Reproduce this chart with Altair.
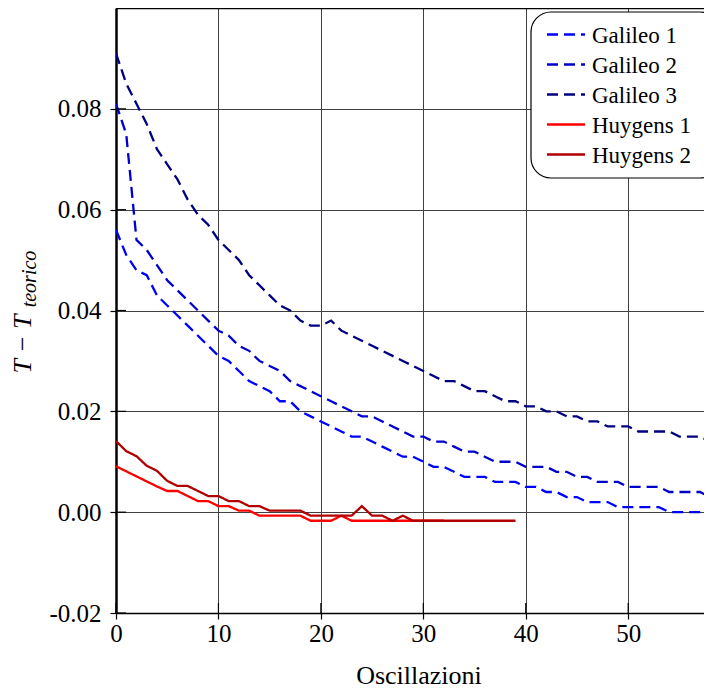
import altair as alt
import pandas as pd

series_names = ["Galileo 1", "Galileo 2", "Galileo 3", "Huygens 1", "Huygens 2"]
series_colors = ["#0000FF", "#0000CC", "#000080", "#FF0000", "#B00000"]
series_dash = [[11, 6], [11, 6], [11, 6], [1, 0], [1, 0]]

galileo1 = [0.056, 0.051, 0.048, 0.047, 0.043, 0.041, 0.039, 0.037, 0.035, 0.033,
            0.031, 0.030, 0.028, 0.026, 0.025, 0.024, 0.022, 0.022, 0.020, 0.019,
            0.018, 0.017, 0.016, 0.015, 0.015, 0.014, 0.013, 0.012, 0.011, 0.011,
            0.010, 0.009, 0.009, 0.008, 0.007, 0.007, 0.007, 0.006, 0.006, 0.006,
            0.005, 0.005, 0.004, 0.004, 0.003, 0.003, 0.002, 0.002, 0.002, 0.001,
            0.001, 0.001, 0.001, 0.001, 0.000, 0.000, 0.000, 0.000, 0.000]
galileo2 = [0.081, 0.075, 0.054, 0.052, 0.049, 0.046, 0.044, 0.042, 0.040, 0.038,
            0.036, 0.035, 0.033, 0.032, 0.030, 0.029, 0.028, 0.026, 0.025, 0.024,
            0.023, 0.022, 0.021, 0.020, 0.019, 0.019, 0.018, 0.017, 0.016, 0.015,
            0.015, 0.014, 0.014, 0.013, 0.012, 0.012, 0.011, 0.010, 0.010, 0.010,
            0.009, 0.009, 0.009, 0.008, 0.008, 0.007, 0.007, 0.006, 0.006, 0.006,
            0.005, 0.005, 0.005, 0.005, 0.004, 0.004, 0.004, 0.004, 0.003]
galileo3 = [0.091, 0.085, 0.081, 0.077, 0.072, 0.069, 0.066, 0.062, 0.059, 0.057,
            0.054, 0.052, 0.050, 0.047, 0.045, 0.043, 0.041, 0.040, 0.038, 0.037,
            0.037, 0.038, 0.036, 0.035, 0.034, 0.033, 0.032, 0.031, 0.030, 0.029,
            0.028, 0.027, 0.026, 0.026, 0.025, 0.024, 0.024, 0.023, 0.022, 0.022,
            0.021, 0.021, 0.020, 0.020, 0.019, 0.019, 0.018, 0.018, 0.017, 0.017,
            0.017, 0.016, 0.016, 0.016, 0.016, 0.015, 0.015, 0.015, 0.014]
huygens1 = [0.0091, 0.0081, 0.0071, 0.0061, 0.0051, 0.0042, 0.0042, 0.0032, 0.0022, 0.0022,
            0.0012, 0.0012, 0.0003, 0.0003, -0.0007, -0.0007, -0.0007, -0.0007, -0.0007, -0.0017,
            -0.0017, -0.0017, -0.0007, -0.0017, -0.0017, -0.0017, -0.0017, -0.0017, -0.0017, -0.0017,
            -0.0017, -0.0017, -0.0017]
huygens2 = [0.0141, 0.0121, 0.0111, 0.0092, 0.0082, 0.0062, 0.0052, 0.0052, 0.0042, 0.0032,
            0.0032, 0.0022, 0.0022, 0.0012, 0.0012, 0.0003, 0.0003, 0.0003, 0.0003, -0.0007,
            -0.0007, -0.0007, -0.0007, -0.0007, 0.0012, -0.0007, -0.0007, -0.0017, -0.0007, -0.0017,
            -0.0017, -0.0017, -0.0017, -0.0017, -0.0017, -0.0017, -0.0017, -0.0017, -0.0017, -0.0017]

x_ticks = [0, 10, 20, 30, 40, 50]
y_ticks = [-0.02, 0.0, 0.02, 0.04, 0.06, 0.08]
X_DOMAIN = [0, 57.4]
Y_DOMAIN = [-0.02, 0.10]

x_title = "Oscillazioni"
y_title_main = "T \u2212 T"
y_title_sub = "teorico"

FONT = "Liberation Serif"
W, H = 588, 605

frames = []
for name, vals in zip(series_names, [galileo1, galileo2, galileo3, huygens1, huygens2]):
    frames.append(pd.DataFrame({"serie": name, "osc": list(range(len(vals))), "dT": vals}))
df = pd.concat(frames, ignore_index=True)

xs = alt.Scale(domain=X_DOMAIN, nice=False, zero=False)
ys = alt.Scale(domain=Y_DOMAIN, nice=False, zero=False)

x_axis = alt.Axis(values=x_ticks, title=None, grid=True, tickSize=6, labelPadding=2,
                  domainWidth=1.5, format="d", labelFlush=False)
y_axis = alt.Axis(values=y_ticks, title=None, grid=True, tickSize=6, labelPadding=9,
                  domainWidth=2.5, labelFlush=False,
                  labelExpr="datum.value < 0 ? '-' + format(abs(datum.value), '.2f') : format(datum.value, '.2f')")

lines = alt.Chart(df).mark_line(strokeWidth=2.3, clip=True).encode(
    x=alt.X("osc:Q", scale=xs, axis=x_axis),
    y=alt.Y("dT:Q", scale=ys, axis=y_axis),
    color=alt.Color("serie:N", scale=alt.Scale(domain=series_names, range=series_colors), legend=None),
    strokeDash=alt.StrokeDash("serie:N", scale=alt.Scale(domain=series_names, range=series_dash), legend=None),
)

ytick_in = alt.Chart(pd.DataFrame({"v": y_ticks})).mark_rule(color="black", strokeWidth=1.2).encode(
    y=alt.Y("v:Q", scale=ys, axis=y_axis), x=alt.value(0), x2=alt.value(10))
xtick_in = alt.Chart(pd.DataFrame({"v": x_ticks})).mark_rule(color="black", strokeWidth=1.2).encode(
    x=alt.X("v:Q", scale=xs, axis=x_axis), y=alt.value(H), y2=alt.value(H - 10))

one = pd.DataFrame({"a": [0]})
top_border = alt.Chart(one).mark_rule(color="black", strokeWidth=1.5).encode(
    x=alt.value(0), x2=alt.value(W), y=alt.value(0.5))

box = alt.Chart(one).mark_rect(fill="white", stroke="black", strokeWidth=1.2, cornerRadius=20).encode(
    x=alt.value(415), x2=alt.value(604), y=alt.value(4), y2=alt.value(170))

leg_df = pd.DataFrame({"serie": series_names})
legend_layers = []
for i, (name, col, dash) in enumerate(zip(series_names, series_colors, series_dash)):
    yy = 26.5 + 30 * i
    sym = alt.Chart(one).mark_rule(color=col, strokeDash=dash, strokeWidth=2.3).encode(
        x=alt.value(431), x2=alt.value(469), y=alt.value(yy))
    lab = alt.Chart(leg_df).transform_filter(alt.datum.serie == name).mark_text(
        align="left", baseline="middle", fontSize=23, font=FONT, color="black").encode(
        x=alt.value(476), y=alt.value(yy + 1), text="serie:N")
    legend_layers += [sym, lab]

xt = alt.Chart(one).mark_text(text=x_title, fontSize=26, font=FONT, align="center",
                              baseline="alphabetic", color="black").encode(
    x=alt.value(303), y=alt.value(676))
yt1 = alt.Chart(one).mark_text(text=y_title_main, fontSize=26, font=FONT, fontStyle="italic",
                               align="center", baseline="middle", angle=270, color="black").encode(
    x=alt.value(-93), y=alt.value(336))
yt2 = alt.Chart(one).mark_text(text=y_title_sub, fontSize=20, font=FONT, fontStyle="italic",
                               align="center", baseline="middle", angle=270, color="black").encode(
    x=alt.value(-86), y=alt.value(271))

chart = alt.layer(lines, ytick_in, xtick_in, top_border, box, *legend_layers, xt, yt1, yt2).properties(
    width=W, height=H,
    padding={"left": 108, "top": 0, "right": 0, "bottom": 76},
    autosize="none",
).configure(font=FONT).configure_view(strokeOpacity=0).configure_axis(
    labelFont=FONT, labelFontSize=25, labelColor="black", gridColor="#404040", gridWidth=1,
    gridOpacity=1, tickColor="black", tickWidth=1.2, domainColor="black",
)

chart.save("out.html", embed_options={"renderer": "svg", "actions": False})
